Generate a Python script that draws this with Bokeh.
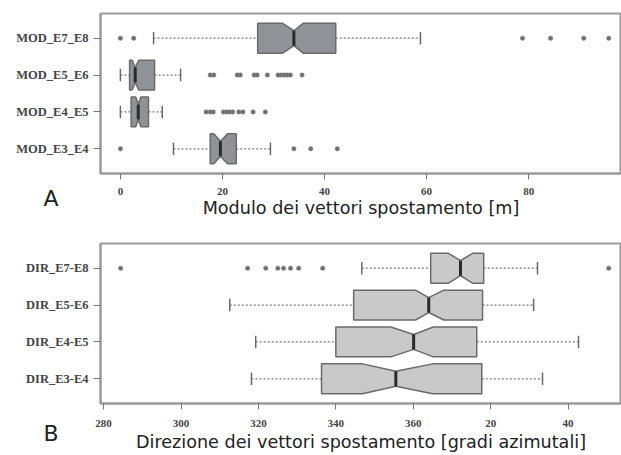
from bokeh.plotting import figure
from bokeh.layouts import column
from bokeh.models import Title, FixedTicker, Range1d
from bokeh.embed import file_html
from bokeh.resources import INLINE

# ---------------- Panel A data ----------------
mod_labels = ["MOD_E3_E4", "MOD_E4_E5", "MOD_E5_E6", "MOD_E7_E8"]
mod_wlo = [10.4, 0.0, 0.0, 6.5]
mod_q1 = [17.6, 2.1, 1.8, 26.9]
mod_nlo = [18.3, 3.0, 2.3, 31.8]
mod_med = [19.6, 3.5, 2.9, 34.0]
mod_nhi = [21.0, 4.0, 3.6, 35.8]
mod_q3 = [22.7, 5.5, 6.7, 42.2]
mod_whi = [29.4, 8.2, 11.8, 58.8]
mod_out = [
    [0.0, 34.0, 37.3, 42.5],
    [16.8, 17.6, 18.2, 20.2, 20.8, 21.4, 22.0, 23.2, 24.0, 26.0, 28.4],
    [17.6, 18.3, 22.9, 23.5, 26.2, 26.8, 28.8, 30.9, 31.5, 32.1, 32.7, 33.3, 35.6],
    [0.0, 2.6, 78.8, 84.3, 90.8, 95.7],
]
mod_ticks = [0, 20, 40, 60, 80]

# ---------------- Panel B data ----------------
dir_labels = ["DIR_E3-E4", "DIR_E4-E5", "DIR_E5-E6", "DIR_E7-E8"]
dir_wlo = [318.2, 319.3, 312.6, 346.7]
dir_q1 = [336.3, 340.0, 344.6, 364.5]
dir_nlo = [346.9, 354.2, 360.6, 369.1]
dir_med = [355.5, 360.1, 364.0, 372.2]
dir_nhi = [365.0, 365.2, 367.9, 375.3]
dir_q3 = [377.7, 376.4, 377.9, 378.2]
dir_whi = [393.4, 402.7, 391.1, 392.1]
dir_out = [
    [],
    [],
    [],
    [284.4, 317.2, 321.9, 325.0, 326.5, 328.3, 330.4, 336.6, 410.5],
]
dir_ticks = [280, 300, 320, 340, 360, 380, 400]
dir_tick_text = ["280", "300", "320", "340", "360", "20", "40"]


def boxplot(p, labels, wlo, q1, nlo, med, nhi, q3, whi, outs, fill):
    H = 0.81
    xs, ys = [], []
    for i in range(len(labels)):
        y = i + 1
        b, t = y - H / 2, y + H / 2
        bn, tn = y - H / 4, y + H / 4
        xs.append([q1[i], nlo[i], med[i], nhi[i], q3[i], q3[i], nhi[i], med[i], nlo[i], q1[i]])
        ys.append([b, b, bn, b, b, t, t, tn, t, t])
    pos = list(range(1, len(labels) + 1))
    p.segment(x0=wlo, y0=pos, x1=q1, y1=pos, line_color="#7a7a7a", line_width=1.3, line_dash="2 2")
    p.segment(x0=q3, y0=pos, x1=whi, y1=pos, line_color="#7a7a7a", line_width=1.3, line_dash="2 2")
    st = 0.17
    p.segment(x0=wlo, y0=[v - st for v in pos], x1=wlo, y1=[v + st for v in pos], line_color="#6a6a6a", line_width=1.5)
    p.segment(x0=whi, y0=[v - st for v in pos], x1=whi, y1=[v + st for v in pos], line_color="#6a6a6a", line_width=1.5)
    p.patches(xs=xs, ys=ys, fill_color=fill, line_color="#6a6a6a", line_width=1.5)
    p.segment(x0=med, y0=[v - H / 4 for v in pos], x1=med, y1=[v + H / 4 for v in pos], line_color="#2a2a2a", line_width=3)
    ox, oy = [], []
    for i, o in enumerate(outs):
        ox += o
        oy += [i + 1] * len(o)
    p.scatter(x=ox, y=oy, size=4.5, fill_color="#6f6f6f", line_color="#8a8a8a", line_width=0.5)


def make_fig(height, xr, yr, min_top, min_bottom, xlabel, lab_sd, title_sd):
    p = figure(width=621, height=height, x_range=xr, y_range=yr,
               output_backend="svg", toolbar_location=None,
               min_border_left=100, min_border_right=0,
               min_border_top=min_top, min_border_bottom=min_bottom)
    p.grid.visible = False
    p.outline_line_color = "#9a9a9a"
    p.outline_line_width = 2
    p.background_fill_color = "white"
    for ax in (p.xaxis[0], p.yaxis[0]):
        ax.axis_line_color = "#9a9a9a"
        ax.axis_line_width = 2
        ax.major_tick_line_color = "#777777"
        ax.major_tick_in = 0
        ax.minor_tick_line_color = None
        ax.major_label_text_font = "Liberation Serif"
        ax.major_label_text_font_style = "bold"
        ax.major_label_text_color = "#444444"
    p.xaxis.major_tick_out = 6
    p.xaxis.major_label_text_font_size = "11px"
    p.xaxis.major_label_standoff = lab_sd
    p.xaxis.axis_label = xlabel
    p.xaxis.axis_label_text_font = "DejaVu Sans"
    p.xaxis.axis_label_text_font_style = "normal"
    p.xaxis.axis_label_text_font_size = "17.6px"
    p.xaxis.axis_label_text_color = "#222222"
    p.xaxis.axis_label_standoff = title_sd
    p.yaxis.major_tick_out = 7
    p.yaxis.major_label_text_font_size = "12.5px"
    p.yaxis.major_label_standoff = 5
    return p


def panel_letter(p, letter, offset, standoff):
    p.add_layout(Title(text=letter, align="left", vertical_align="top", offset=offset,
                       standoff=standoff, text_font="DejaVu Sans", text_font_size="22px",
                       text_font_style="normal", text_color="#222222"), "below")


# Panel A
pA = make_fig(230, Range1d(-3.9, 98.2), Range1d(0.33, 4.67), 13, 57,
              "Modulo dei vettori spostamento [m]", 8, 0)
boxplot(pA, mod_labels, mod_wlo, mod_q1, mod_nlo, mod_med, mod_nhi, mod_q3, mod_whi, mod_out, "#8f9398")
pA.xaxis.ticker = FixedTicker(ticks=mod_ticks)
pA.yaxis.ticker = FixedTicker(ticks=list(range(1, len(mod_labels) + 1)))
pA.yaxis.major_label_overrides = {i + 1: s for i, s in enumerate(mod_labels)}
panel_letter(pA, "A", -57, -70)

# Panel B
pB = make_fig(225, Range1d(279.2, 413.8), Range1d(0.33, 4.67), 13, 52,
              "Direzione dei vettori spostamento [gradi azimutali]", 10, 2)
boxplot(pB, dir_labels, dir_wlo, dir_q1, dir_nlo, dir_med, dir_nhi, dir_q3, dir_whi, dir_out, "#c9c9c9")
pB.xaxis.ticker = FixedTicker(ticks=dir_ticks)
pB.xaxis.major_label_overrides = {t: s for t, s in zip(dir_ticks, dir_tick_text)}
pB.yaxis.ticker = FixedTicker(ticks=list(range(1, len(dir_labels) + 1)))
pB.yaxis.major_label_overrides = {i + 1: s for i, s in enumerate(dir_labels)}
panel_letter(pB, "B", -57, -68)

layout = column(pA, pB, spacing=0)
open("out.html", "w").write(file_html(layout, INLINE))
